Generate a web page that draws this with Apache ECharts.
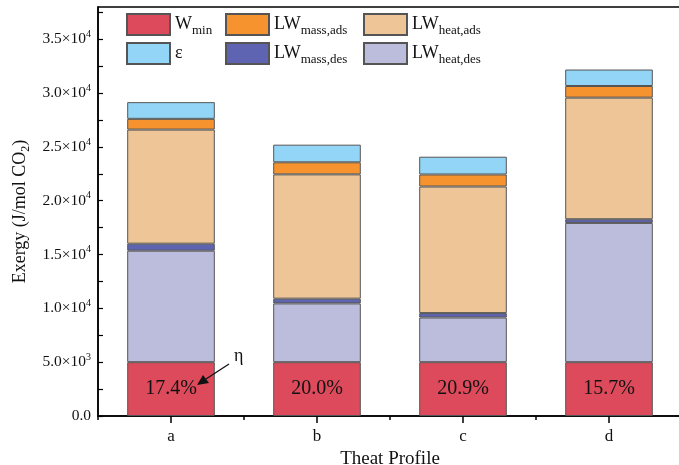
<!DOCTYPE html>
<html>
<head>
<meta charset="utf-8">
<script src="https://cdn.jsdelivr.net/npm/echarts@6/dist/echarts.min.js"></script>
<style>
  html, body { margin: 0; padding: 0; background: #fff; }
  #chart { width: 679px; height: 465px; }
</style>
</head>
<body>
<div id="chart"></div>
<script>
const categories = ["a", "b", "c", "d"];
const wMin = [5000, 5000, 5000, 5000];
const lwHeatDes = [10360, 5460, 4150, 12940];
const lwMassDes = [650, 440, 410, 340];
const lwHeatAds = [10600, 11550, 11760, 11300];
const lwMassAds = [1000, 1120, 1120, 1080];
const eps = [1550, 1640, 1650, 1530];
const etaLabels = ["17.4%", "20.0%", "20.9%", "15.7%"];

const FONT = "Liberation Serif";
const border = "#555";

// legend text with subscripts
const legendText = {
  W_min: "{m|W}{s|min}",
  LW_mass_ads: "{m|LW}{s|mass,ads}",
  LW_heat_ads: "{m|LW}{s|heat,ads}",
  eps: "{m|ε}",
  LW_mass_des: "{m|LW}{s|mass,des}",
  LW_heat_des: "{m|LW}{s|heat,des}",
};
const legendRich = {
  m: { fontFamily: FONT, fontSize: 18, color: "#111" },
  s: { fontFamily: FONT, fontSize: 13, color: "#111", padding: [12, 0, 0, 0] },
};
// [name, left, top]
const legendPos = [
  ["W_min", 126, 13],
  ["LW_mass_ads", 225, 13],
  ["LW_heat_ads", 363, 13],
  ["eps", 126, 42],
  ["LW_mass_des", 225, 42],
  ["LW_heat_des", 363, 42],
];

function bar(name, data, color, extra) {
  return Object.assign({
    name: name,
    type: "bar",
    stack: "total",
    data: data,
    barWidth: "60%",
    itemStyle: { color: color, borderColor: border, borderWidth: 1 },
    emphasis: { disabled: true },
  }, extra || {});
}

function yFmt(v) {
  if (v % 5000 !== 0) return "";
  if (v === 0) return "{m|0.0}";
  const e = Math.floor(Math.log10(v));
  const m = (v / Math.pow(10, e)).toFixed(1);
  return "{m|" + m + "×10}{e|" + e + "}";
}

const chart = echarts.init(document.getElementById("chart"));
chart.setOption({
  backgroundColor: "#fff",
  animation: false,
  grid: {
    left: 98, top: 7, width: 584, height: 409,
    outerBoundsMode: "none",
    containLabel: false,
    show: true, borderColor: "#000", borderWidth: 1.5,
  },
  legend: legendPos.map(([name, left, top]) => ({
    data: [name],
    left: left, top: top,
    padding: 0,
    itemWidth: 43, itemHeight: 21, itemGap: 0,
    selectedMode: false,
    icon: "rect",
    formatter: (n) => legendText[n],
    textStyle: { rich: legendRich },
  })),
  xAxis: [
    {
      type: "category",
      data: categories,
      boundaryGap: true,
      axisLine: { lineStyle: { color: "#000", width: 1.5 } },
      axisTick: { show: true, length: 4, inside: false, lineStyle: { color: "#000", width: 1.5 } },
      axisLabel: { fontFamily: FONT, fontSize: 17, color: "#111", margin: 12 },
      name: "Theat Profile",
      nameLocation: "middle",
      nameGap: 25,
      nameTextStyle: { fontFamily: FONT, fontSize: 19, color: "#111" },
    },
    {
      type: "category",
      data: categories,
      position: "bottom",
      axisLine: { show: false },
      axisTick: { show: true, alignWithLabel: true, length: 7, lineStyle: { color: "#000", width: 1.5 } },
      axisLabel: { show: false },
    },
  ],
  yAxis: {
    type: "value",
    min: 0,
    max: 38000,
    interval: 2500,
    splitLine: { show: false },
    axisLine: { show: true, lineStyle: { color: "#000", width: 1.5 } },
    axisTick: { show: true, inside: true, length: 5, lineStyle: { color: "#000", width: 1.2 } },
    axisLabel: {
      formatter: yFmt,
      margin: 7,
      showMaxLabel: false,
      rich: {
        m: { fontFamily: FONT, fontSize: 15.5, color: "#111" },
        e: { fontFamily: FONT, fontSize: 10, color: "#111", padding: [0, 0, 10, 0] },
      },
    },
    name: "{m|Exergy (J/mol CO}{s|2}{m|)}",
    nameLocation: "middle",
    nameGap: 60,
    nameTextStyle: {
      rich: {
        m: { fontFamily: FONT, fontSize: 18, color: "#111" },
        s: { fontFamily: FONT, fontSize: 12, color: "#111", padding: [10, 0, 0, 0] },
      },
    },
  },
  series: [
    bar("W_min", wMin, "#dd4a5b", {
      label: {
        show: true,
        position: "inside",
        formatter: (p) => etaLabels[p.dataIndex],
        fontFamily: FONT, fontSize: 20, color: "#111",
      },
    }),
    bar("LW_heat_des", lwHeatDes, "#bcbddc"),
    bar("LW_mass_des", lwMassDes, "#5f64b2"),
    bar("LW_heat_ads", lwHeatAds, "#eec596"),
    bar("LW_mass_ads", lwMassAds, "#f7932f"),
    bar("eps", eps, "#92d5f6"),
  ],
  graphic: [
    { type: "text", z: 100, left: 234, top: 347, style: { text: "η", font: "18px " + FONT, fill: "#111" } },
    { type: "line", z: 100, shape: { x1: 229, y1: 364, x2: 206, y2: 379 }, style: { stroke: "#111", lineWidth: 1.3 } },
    { type: "polygon", z: 100, shape: { points: [[197, 385], [203, 375], [209, 383]] }, style: { fill: "#111" } },
  ],
});
</script>
</body>
</html>
